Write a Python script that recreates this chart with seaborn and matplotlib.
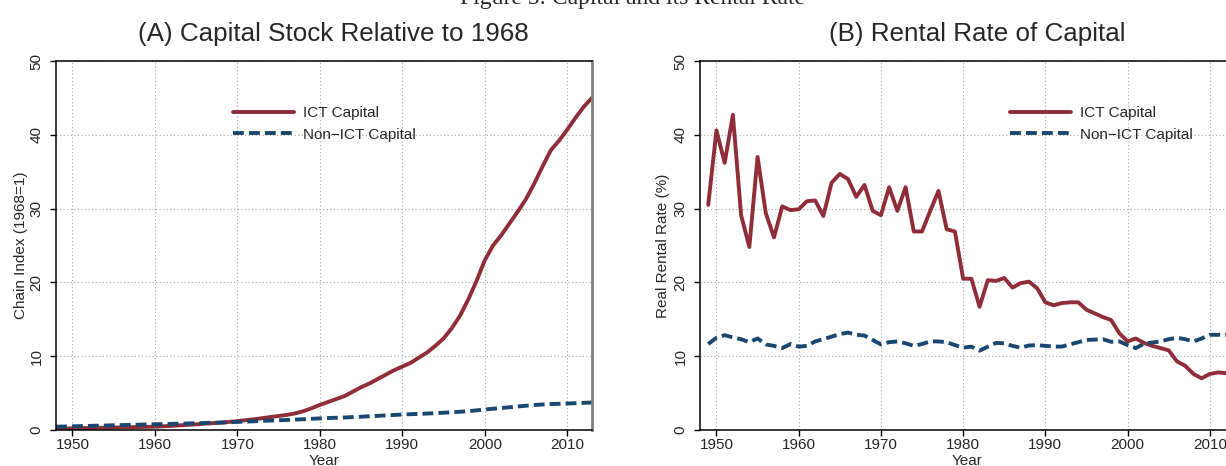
import matplotlib
matplotlib.use("Agg")
import matplotlib.pyplot as plt
import numpy as np
import pandas as pd
import seaborn as sns

# Panel A: capital stock index (1968=1), 1948-2013
years_a = list(range(1948, 2014))
ict_stock = [0.18, 0.20, 0.22, 0.25, 0.27, 0.29, 0.31, 0.33, 0.36, 0.38,
             0.40, 0.42, 0.45, 0.50, 0.56, 0.63, 0.70, 0.77, 0.85, 0.93,
             1.00, 1.10, 1.20, 1.33, 1.45, 1.60, 1.75, 1.90, 2.05, 2.25,
             2.55, 2.95, 3.40, 3.80, 4.20, 4.60, 5.20, 5.80, 6.30, 6.90,
             7.50, 8.10, 8.60, 9.10, 9.80, 10.5, 11.4, 12.4, 13.8, 15.5,
             17.7, 20.2, 23.0, 25.0, 26.4, 28.0, 29.6, 31.3, 33.4, 35.7,
             37.9, 39.2, 40.7, 42.3, 43.8, 45.0]
nonict_stock = [0.45, 0.47, 0.50, 0.53, 0.56, 0.59, 0.61, 0.64, 0.67, 0.70,
                0.72, 0.75, 0.78, 0.80, 0.83, 0.86, 0.89, 0.92, 0.95, 0.98,
                1.00, 1.05, 1.10, 1.14, 1.18, 1.23, 1.28, 1.32, 1.36, 1.41,
                1.46, 1.52, 1.57, 1.62, 1.66, 1.70, 1.75, 1.80, 1.86, 1.92,
                1.98, 2.04, 2.10, 2.14, 2.18, 2.23, 2.28, 2.34, 2.40, 2.47,
                2.55, 2.66, 2.78, 2.88, 2.98, 3.08, 3.19, 3.29, 3.38, 3.46,
                3.52, 3.55, 3.59, 3.63, 3.68, 3.73]

# Panel B: real rental rate (%), 1949-2013
years_b = list(range(1949, 2014))
ict_rate = [30.5, 40.6, 36.2, 42.7, 29.1, 24.8, 37.0, 29.4, 26.1, 30.3,
            29.8, 29.9, 31.0, 31.1, 29.0, 33.5, 34.7, 34.0, 31.6, 33.2,
            29.7, 29.1, 32.9, 29.7, 32.9, 26.9, 26.9, 29.7, 32.4, 27.2,
            26.9, 20.5, 20.5, 16.7, 20.3, 20.2, 20.6, 19.3, 19.9, 20.1,
            19.2, 17.3, 16.9, 17.2, 17.3, 17.3, 16.3, 15.8, 15.3, 14.9,
            13.1, 12.0, 12.4, 11.8, 11.4, 11.1, 10.8, 9.3, 8.7, 7.6,
            7.0, 7.6, 7.8, 7.7, 7.6]
nonict_rate = [11.65, 12.5, 12.85, 12.55, 12.3, 11.9, 12.4, 11.6, 11.4, 11.1,
               11.65, 11.3, 11.4, 12.0, 12.3, 12.65, 13.0, 13.2, 12.9, 12.8,
               12.2, 11.6, 11.9, 12.0, 11.75, 11.4, 11.65, 12.0, 12.0, 11.9,
               11.5, 11.15, 11.3, 10.75, 11.3, 11.8, 11.75, 11.4, 11.15, 11.45,
               11.5, 11.4, 11.3, 11.3, 11.6, 11.9, 12.2, 12.25, 12.3, 11.95,
               12.0, 11.5, 11.1, 11.7, 11.85, 12.0, 12.3, 12.5, 12.3, 12.0,
               12.4, 12.9, 12.9, 12.9, 12.9]

series_names = ["ICT Capital", "Non\u2212ICT Capital"]
colors = ["#8f2d38", "#1a476f"]
x_ticks = [1950, 1960, 1970, 1980, 1990, 2000, 2010]
y_ticks = [0, 10, 20, 30, 40, 50]

sns.set_theme(style="white")
plt.rcParams["font.family"] = ["Liberation Sans", "DejaVu Sans"]

W, H = 1226, 466
fig = plt.figure(figsize=(W / 100, H / 100), dpi=100)


def px_axes(x0, x1, y0, y1):
    return fig.add_axes([x0 / W, 1 - y1 / H, (x1 - x0) / W, (y1 - y0) / H])


def draw_panel(ax, years, ict, nonict, ylabel, leg_x):
    sns.lineplot(x=years, y=ict, ax=ax, color=colors[0], linewidth=2.8,
                 label=series_names[0])
    sns.lineplot(x=years, y=nonict, ax=ax, color=colors[1], linewidth=2.8,
                 label=series_names[1])
    ax.lines[1].set_dashes([2.8, 1.3])
    ax.lines[1].set_dash_capstyle("butt")

    ax.set_xlim(1948, 2013)
    ax.set_ylim(0, 50)
    ax.set_xticks(x_ticks)
    ax.set_yticks(y_ticks)
    ax.grid(True, color="#a8a8a8", linestyle=(0, (1, 2.2)), linewidth=0.8)
    ax.tick_params(axis="both", labelsize=11, direction="out", length=4,
                   width=1, color="black", bottom=True, left=True)
    ax.tick_params(axis="x", pad=2)
    ax.tick_params(axis="y", pad=5, labelrotation=90)
    for lab in ax.get_yticklabels():
        lab.set_va("center")
    for side in ["left", "bottom", "top"]:
        ax.spines[side].set_color("black")
        ax.spines[side].set_linewidth(1.1)
    ax.spines["right"].set_color("#808080")
    ax.spines["right"].set_linewidth(2)

    ax.set_xlabel("Year", fontsize=11, labelpad=1)
    ax.set_ylabel(ylabel, fontsize=11)

    ax.legend(loc="upper left", bbox_to_anchor=(leg_x / W, 1 - 106 / H),
              bbox_transform=fig.transFigure, frameon=False, borderpad=0,
              borderaxespad=0, handlelength=4.0, handletextpad=0.6,
              labelspacing=0.5, fontsize=11)


ax1 = px_axes(56, 592, 61, 430)
draw_panel(ax1, years_a, ict_stock, nonict_stock, "Chain Index (1968=1)", 233)
ax1.yaxis.set_label_coords(-0.052, 0.5)

ax2 = px_axes(700, 1234.5, 61, 430)
draw_panel(ax2, years_b, ict_rate, nonict_rate, "Real Rental Rate (%)", 1010)
ax2.yaxis.set_label_coords(-0.056, 0.5)

fig.text(633 / W, 1 - 4 / H, "Figure 5: Capital and its Rental Rate",
         family="Liberation Serif", fontsize=17, ha="center", va="baseline")
fig.text(333 / W, 1 - 41 / H, "(A) Capital Stock Relative to 1968",
         fontsize=18.7, ha="center", va="baseline")
fig.text(977 / W, 1 - 41 / H, "(B) Rental Rate of Capital",
         fontsize=18.7, ha="center", va="baseline")

fig.savefig("out.png", dpi=100)
